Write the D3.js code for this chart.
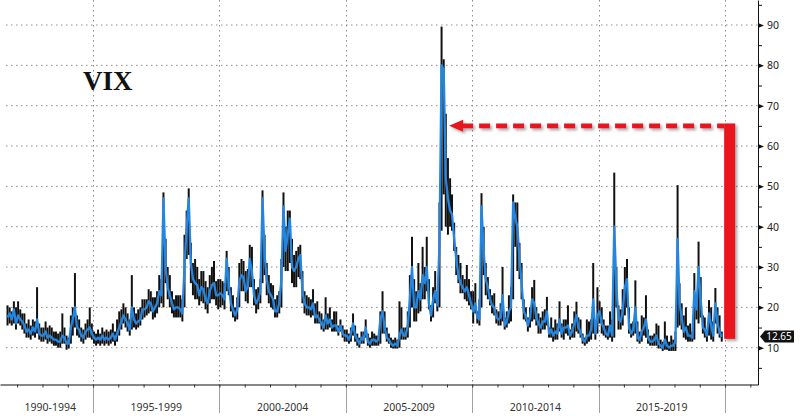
<!DOCTYPE html>
<html><head><meta charset="utf-8">
<script src="https://cdn.jsdelivr.net/npm/d3@7"></script>
<style>body{margin:0;background:#fff}svg{display:block}</style>
</head><body><svg id="c" width="800" height="416"></svg>
<script>
// ---- data (monthly, starting Aug 1991) ----
const startYear = 1991, startMonth = 7;
const vixBlue = [
 17.5,18.5,17,19.5,16,
 18,17,16.5,15.5,14,14.5,13.5,15,14,17,13.5,13,
 13,14,12.5,13,12.5,12,12,11.5,11.5,13,12.5,11,
 11,15,17,20,15,14.5,13,12.5,14,14.5,15,13.5,
 12.5,12,12.5,12,13,12,12.5,12,12.5,13.5,12,13.5,
 15,16.5,18,17,16,14.5,20,17,16,16.5,17,19.5,
 19.5,20,21.5,21,19,20,21,24,23,47,30,25,
 23,21,19.5,20,20,19.5,18.5,30,40,47,31,27,
 26,25.5,23,25,24.5,22,21,24,25.5,26,23,23,
 23.5,23,22,32,26,21,19.5,18,19.5,26.5,28,27.5,
 24,25,32,29,23,21,22,24,47,33,27,24,
 23,22,19,19,21,27,45,34,38,42,30,29,
 30,32,33,24,21,20,20,19.5,21,17.5,18,17,
 16,15,18,16,17,15,15.5,15.5,14,15.5,13.5,13,
 13,12,13.5,16,13,12,11,12.5,12,15,11.5,11,
 12,12,11.5,12,17,19,15,12.5,12,11,10.5,11,
 10.5,13,14.5,13,13,15.5,22,30,20,20,24,22,
 28,26,30,21,18,22,24,20.5,36,80,79,52,
 47,44,43,37,32,28,26,25,24,25,23,21,
 19,21,17.5,17,45,34,27,25,22,20.5,20,17.5,
 17,17.5,23,15.5,16.5,19,20,46,42,40,32,26,
 19,18,15.5,17.5,22,21,17.5,16,15,16.5,16.5,19,
 13.5,14.5,13,14,13.5,17,13.5,15,15,15.5,13,14,
 16,18,15,14,12,11.5,13,13,14.5,22,13.5,18,
 19,16,15,13.5,13,15.5,13,40,25,17,16.5,19,
 25,27,15,13.5,14.5,20,12.5,12,14,15,17,12.5,
 11.5,11.5,12,13,11,10.5,10,12,10.5,10,10.5,10.5,
 11.5,37,21,17.5,14,15,13,13,12.5,24,19.5,30,
 22,15,14.5,13,18.5,15.5,13,21,16,14,12.65
];
const vixLow = [
 15.5,16,15.5,16,14.5,
 16,15.5,14.5,13.5,12.5,12.5,12,13,12.5,13.5,12,11.5,
 11.5,12,11,11.5,11,10.5,10.5,10,10,11,11,9.5,
 9.8,11,13,15,13,12.5,11.5,11,12,12.5,12.5,12,
 11,10.5,11,10.5,11,10.5,11,10.5,11,11.5,10.5,11.5,
 13,14.5,16,15,14,13,14.5,15,14.5,15,15.5,17,
 17.5,18,18.5,19,17,17.5,18.5,20,21,20,26,22,
 20,18.5,17.5,17.5,17.5,17.5,16.5,20,32,33,26,23,
 22,22,20.5,21.5,21,19.5,18.5,21,22,22,20.5,19.5,
 20,20.5,19.5,24,23,19,17.5,16.5,17,20,24,24,
 21.5,21,25,25,20.5,18.5,19.5,21,26,28,23,21,
 20,19.5,17.5,17.5,18.5,20,30,29,29,31,26,25,
 25,27.5,27,21,18.5,18,18,17.5,18,16,16,16,
 14.5,14,14.5,14.5,15,14,14,14,13,14,12.5,11.5,
 11.5,11,11.5,13,11.5,10.5,10,11,11,12.5,10.5,10,
 10.5,10.5,10.5,10.5,11,13.5,13.5,11.5,11,10,9.8,9.8,
 9.8,10,12,12,12,12.5,15,20,16.5,16.5,18.5,19,
 22,22,24,19.5,16.5,17.5,21,19,20,39,48,40,
 38,40,39,34,28,26,23.5,23.5,22,21.5,20.5,19.5,
 16,18.5,16,15.5,20,28,23,22,20.5,18.5,18,16,
 15.5,15.5,16.5,14.5,15,16,16.5,22,35,29,27,22,
 17,16.5,14,15,16.5,17,15.5,13.5,13.5,14.5,14.5,15.5,
 12.5,12.5,11.5,12,12,14,12.5,12,13.5,13,12,12.5,
 12.5,14,13.5,12.5,11,10.5,11,11.5,12,13.5,12,13.5,
 16,13.5,13,12.5,12,12.5,11.5,12.5,20,14.5,14.5,15.5,
 18,20,13.5,12.5,13,13.5,11.5,11,11.5,13,12.5,11,
 10.5,10.5,10.5,10.5,9.8,9.8,9.2,9.5,9.5,9.2,9.2,9.2,
 9.2,15,15.5,14.5,12.5,12,11.5,11.5,11.5,12,17,16,
 17.5,13.5,12.5,11.5,13,12,11.5,16,13.5,12.5,11.5
];
const vixHigh = [
 20.5,20,19,21.5,20,
 21.5,19.5,18.5,18.5,16,17,15.5,17,16.5,25,16,15,
 15,16.5,15,15.5,15,14,14,13.5,14,18.5,15,13,
 12.5,18,20,28.5,18,17,15,14.5,16,17,20,16,
 14,13.5,14.5,13.5,15,14,14.5,14,14.5,16,14,17,
 19,19.5,21,20,18.5,17,28,20,18.5,19.5,20,22,
 22,22,24.5,24,22.5,22.5,24,28,27,48.5,37,30,
 28,24,22,23,23,23,22,38,44,49.5,36,31,
 32,30,27,29,29,26.5,25,28,30,31.5,26.5,27,
 27,26.5,26,34,30,25,23,20,22.5,31,32,31.5,
 29,29.5,35.5,35,27,24.5,25,27,49,38,31,28,
 26,25.5,22,23,24,32,48.5,40,44,44,37,33,
 34,35,35.5,29,24,23,22.5,22,24.5,21,21.5,19,
 18.5,17,22.5,18.5,20,17,19,19,15.5,17,15.5,14.5,
 14.5,13.5,15,18.5,15.5,13.5,12.5,14,14,17,13.5,12.5,
 14,13.5,13,13,19,24,19,15,13.5,12.5,12,12.5,
 12,21.5,20,15,15,19,28,37.5,27,24,31,26,
 35,30,37.5,27,20.5,25,29,24,46,89.6,81.5,68,
 57,52,48,41,35,33,31,28,27,30.5,27,24,
 24,26,19,22,48.3,40,31,27.5,24.5,23,23.5,19.5,
 19,21,30,17.5,19,23,25,48,46,46,36,31,
 22,20,17.5,20,25,26.8,20,18.5,17.5,19,19.5,22.6,
 15,17.5,15,17,16,21.5,16,17,17,20.5,14.5,16,
 19,21.4,17.5,17,13.5,12.5,17,16.5,17,31,15,25,
 21.5,20,17,15.5,15.5,19,17,53.4,30,20.5,19.5,24.5,
 30,32,20,16,16.5,26.7,16.5,14,18,17.5,23,14.5,
 13,13,13.5,16,15.5,12,11.5,16.5,13,11.5,13,12,
 14,50.3,26,21,18,20,15.5,16,14,28.5,22.5,36.3,
 27.5,18,17.5,14.5,21.8,20,16.5,24.8,20,18,14
];
const yTicks = [10,20,30,40,50,60,70,80,90];
const yMinorTicks = [5,15,25,35,45,55,65,75,85,95];
const periodBreaks = [1995,2000,2005,2010,2015,2020];
const periodLabels = ["1990-1994","1995-1999","2000-2004","2005-2009","2010-2014","2015-2019"];
const title = "VIX";
const lastValue = 12.65;
const arrowLevel = 65, arrowBottom = 12.2;
const arrowTipDate = new Date(2009,1,1), arrowBarDate = new Date(2019,11,20);

if (vixBlue.length !== vixLow.length || vixBlue.length !== vixHigh.length)
  throw new Error("length mismatch " + vixBlue.length + " " + vixLow.length + " " + vixHigh.length);

// ---- layout ----
const plotR = 758, axisY = 384.5;
const svg = d3.select("#c");
const x = d3.scaleTime().domain([new Date(1995,0,1), new Date(2020,0,1)]).range([93,725]);
const y = d3.scaleLinear().domain([10,90]).range([347.7,25]);
const dates = vixBlue.map((_, i) => new Date(startYear, startMonth + i, 15));
const data = dates.map((d, i) => ({d, c: vixBlue[i], lo: vixLow[i], hi: vixHigh[i]}));

const defs = svg.append("defs");
const f = defs.append("filter").attr("id","sh").attr("x","-20%").attr("y","-20%").attr("width","140%").attr("height","140%");
f.append("feDropShadow").attr("dx",2).attr("dy",2).attr("stdDeviation",1.5).attr("flood-color","#000").attr("flood-opacity",0.35);

// gridlines
svg.append("g").selectAll("line").data(yTicks).join("line")
  .attr("x1",6).attr("x2",plotR).attr("y1",d=>y(d)).attr("y2",d=>y(d))
  .attr("stroke","#8c8c8c").attr("stroke-width",1).attr("stroke-dasharray","1.5,3.5");
svg.append("g").selectAll("line").data(periodBreaks).join("line")
  .attr("x1",d=>Math.round(x(new Date(d,0,1)))+0.5).attr("x2",d=>Math.round(x(new Date(d,0,1)))+0.5)
  .attr("y1",0).attr("y2",axisY)
  .attr("stroke","#8c8c8c").attr("stroke-width",1).attr("stroke-dasharray","1.5,3.5");
// separators below axis
svg.append("g").selectAll("line").data(periodBreaks).join("line")
  .attr("x1",d=>Math.round(x(new Date(d,0,1)))+0.5).attr("x2",d=>Math.round(x(new Date(d,0,1)))+0.5)
  .attr("y1",axisY).attr("y2",413)
  .attr("stroke","#a0a0a0").attr("stroke-width",1);

// black high-low bars
svg.append("g").selectAll("line").data(data).join("line")
  .attr("x1",d=>x(d.d)).attr("x2",d=>x(d.d))
  .attr("y1",d=>y(d.lo)).attr("y2",d=>y(d.hi))
  .attr("stroke","#111").attr("stroke-width",2);
// blue line
svg.append("path").datum(data)
  .attr("d", d3.line().x(d=>x(d.d)).y(d=>y(d.c)))
  .attr("fill","none").attr("stroke","#2586e0").attr("stroke-width",2.3).attr("stroke-linejoin","round");

// x axis
const xAxisScale = x.copy().domain([x.invert(0), x.invert(plotR)]).range([0,plotR]);
const gx = svg.append("g").attr("transform",`translate(0,${axisY})`)
  .call(d3.axisBottom(xAxisScale).ticks(d3.timeYear.every(1)).tickFormat("").tickSize(3).tickSizeOuter(0));
gx.select(".domain").attr("stroke","#111");
gx.selectAll(".tick line").attr("stroke","#333");

// period labels
const starts = [dates[0]].concat(periodBreaks.slice(0,-1).map(yv=>new Date(yv,0,1)));
svg.append("g").selectAll("text").data(periodLabels).join("text")
  .attr("x",(d,i)=>(x(starts[i]) + x(new Date(periodBreaks[i],0,1)))/2)
  .attr("y",407).attr("dy","0.35em").attr("text-anchor","middle")
  .attr("font-family","'Noto Sans', sans-serif").attr("font-size",10.5).attr("fill","#333")
  .text(d=>d);

// right axis
const yAxisScale = y.copy().domain([y.invert(axisY), y.invert(0)]).range([axisY,0]);
const gy = svg.append("g").attr("transform",`translate(${plotR},0)`)
  .call(d3.axisRight(yAxisScale).tickValues(yTicks).tickSize(0).tickPadding(9).tickSizeOuter(0));
gy.select(".domain").attr("stroke","#111");
gy.selectAll(".tick text").attr("font-family","'Noto Sans', sans-serif").attr("font-size",10.5).attr("fill","#222");
gy.selectAll(".tick").append("path").attr("d","M0,-2.5L6,0L0,2.5Z").attr("fill","#111");
svg.append("g").attr("transform",`translate(${plotR},0)`)
  .call(d3.axisRight(yAxisScale).tickValues(yMinorTicks).tickSize(4).tickFormat("").tickSizeOuter(0))
  .call(g=>g.select(".domain").remove())
  .selectAll(".tick line").attr("stroke","#111");

// last value tag
const ly = y(lastValue) - 0.5;
svg.append("path").attr("d",`M760,${ly}L765,${ly-6}L794,${ly-6}L794,${ly+6}L765,${ly+6}Z`).attr("fill","#111");
svg.append("text").attr("x",779).attr("y",ly).attr("dy","0.36em").attr("text-anchor","middle")
  .attr("font-family","'Noto Sans', sans-serif").attr("font-size",10).attr("fill","#fff").text(lastValue.toFixed(2));

// title
svg.append("text").attr("x",83).attr("y",90).attr("font-family","'Liberation Serif', serif")
  .attr("font-weight","bold").attr("font-size",27).attr("fill","#111").text(title);

// red arrow
const red = "#e8141c";
const ay = y(arrowLevel), tipX = x(arrowTipDate), barX = x(arrowBarDate);
const ga = svg.append("g").attr("filter","url(#sh)");
ga.append("line").attr("x1",tipX+13).attr("x2",barX).attr("y1",ay).attr("y2",ay)
  .attr("stroke",red).attr("stroke-width",4.8).attr("stroke-dasharray","11,6");
ga.append("path").attr("d",`M${tipX},${ay}L${tipX+14},${ay-6}L${tipX+14},${ay+6}Z`).attr("fill",red);
ga.append("rect").attr("x",barX).attr("width",11).attr("y",ay-2.4).attr("height",y(arrowBottom)-(ay-2.4)).attr("fill",red);
</script></body></html>
